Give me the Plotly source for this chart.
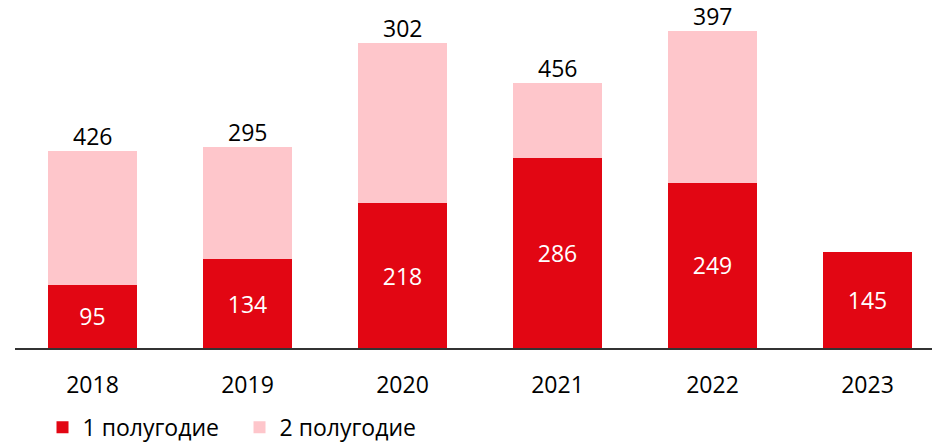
import plotly.graph_objects as go

years = ["2018", "2019", "2020", "2021", "2022", "2023"]
h1 = [95, 134, 218, 286, 249, 145]
h2 = [201, 169, 241, 113, 228, None]
top_labels = ["426", "295", "302", "456", "397", ""]

RED = "#E20613"
PINK = "#FEC6CB"
FONT = "Open Sans"

fig = go.Figure()
fig.add_trace(go.Bar(
    x=years, y=h1, name="1 полугодие", marker=dict(color=RED, line_width=0),
    text=[str(v) for v in h1], textposition="inside", insidetextanchor="middle",
    textfont=dict(color="white", size=23, family=FONT), textangle=0,
))
fig.add_trace(go.Bar(
    x=years, y=h2, name="2 полугодие", marker=dict(color=PINK, line_width=0),
))

for i, (a, b, lab) in enumerate(zip(h1, h2, top_labels)):
    if lab:
        fig.add_annotation(x=i, y=a + (b or 0), text=lab, showarrow=False,
                           xref="x", yref="y",
                           yanchor="middle", yshift=15,
                           font=dict(color="black", size=23, family=FONT))

fig.update_layout(
    width=932, height=443,
    barmode="stack", bargap=0.426,
    margin=dict(l=15, r=0, t=0, b=94.5, autoexpand=False),
    plot_bgcolor="white", paper_bgcolor="white",
    font=dict(family=FONT, size=23, color="black"),
    uniformtext=dict(mode=False),
    showlegend=True,
    legend=dict(orientation="h", x=0.03, xanchor="left", y=-0.166, yanchor="top",
                font=dict(size=23, family=FONT, color="black"),
                traceorder="normal", itemclick=False,
                entrywidth=152, entrywidthmode="pixels"),
    xaxis=dict(type="category", range=[-0.5, 5.416], showline=True, linecolor="#333333", linewidth=1.5,
               ticks="", showgrid=False, ticklabelstandoff=16, fixedrange=True,
               tickfont=dict(size=23, family=FONT, color="black")),
    yaxis=dict(range=[0, 524], visible=False, showgrid=False, zeroline=False, fixedrange=True),
)

fig.write_html("out.html")
